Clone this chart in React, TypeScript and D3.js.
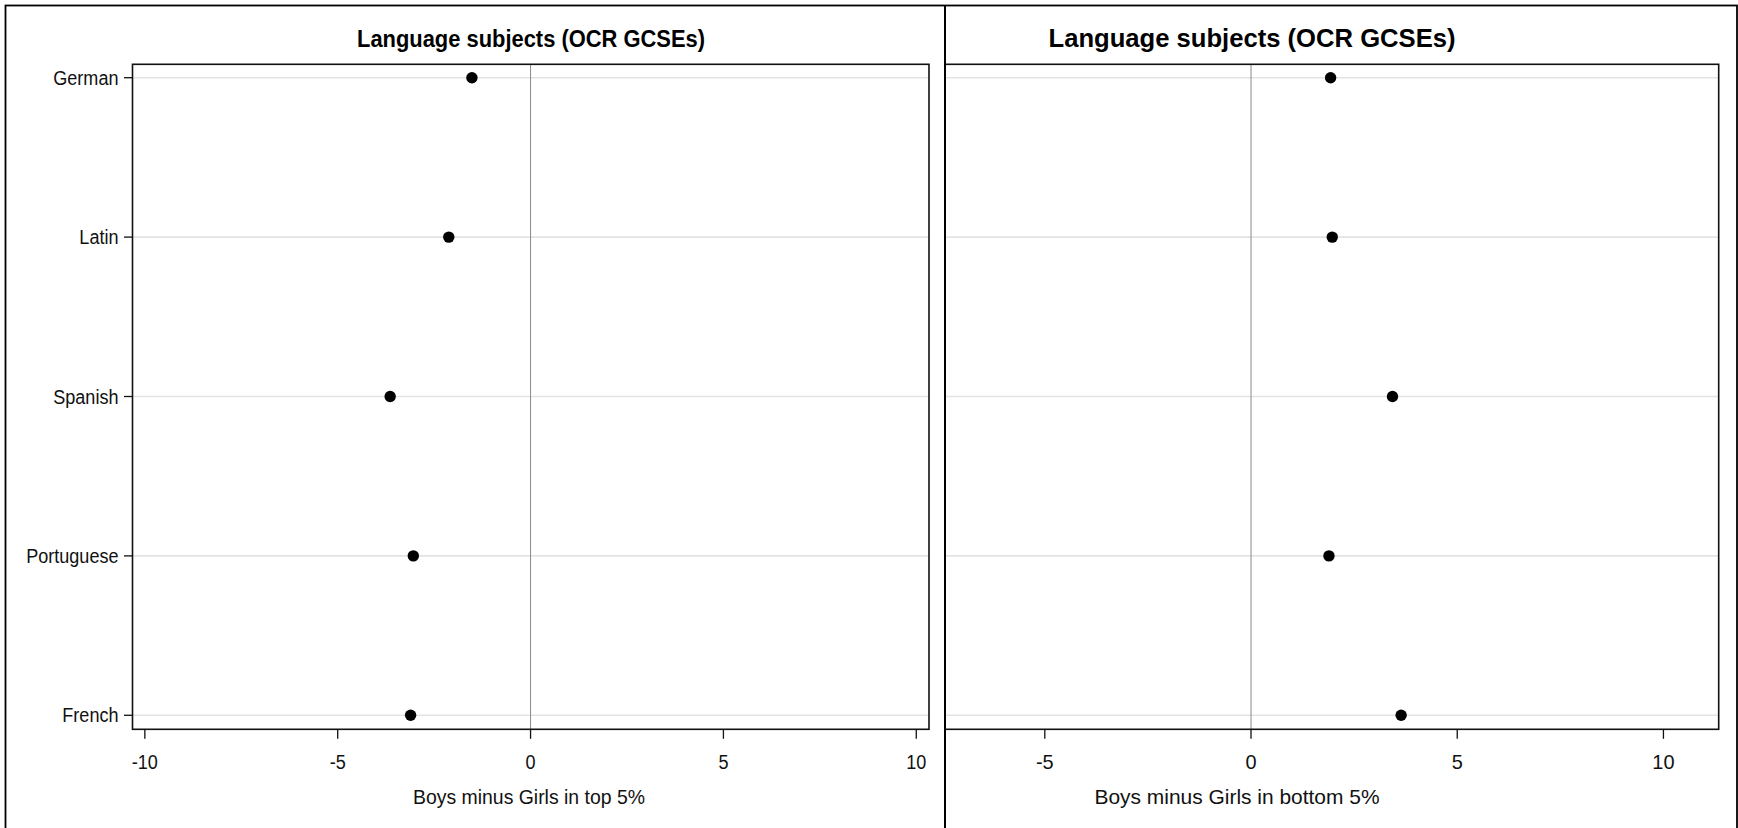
import React from "react";
import * as d3 from "d3";

// Subjects and the two boys-minus-girls differences (percentage points)
const subjects: string[] = ["German", "Latin", "Spanish", "Portuguese", "French"];
const topFiveDiff: number[] = [-1.52, -2.12, -3.64, -3.04, -3.11];
const bottomFiveDiff: number[] = [1.93, 1.97, 3.43, 1.89, 3.64];

const leftTicks: number[] = [-10, -5, 0, 5, 10];
const rightTicks: number[] = [-5, 0, 5, 10];

const panelTitle = "Language subjects (OCR GCSEs)";
const leftAxisLabel = "Boys minus Girls in top 5%";
const rightAxisLabel = "Boys minus Girls in bottom 5%";

const W = 1738;
const H = 828;
const FONT = "'Liberation Sans', Arial, Helvetica, sans-serif";

const plotTop = 64.3;
const plotBottom = 729.3;

const y = d3.scalePoint<string>().domain(subjects).range([77.7, 715.3]);

const xLeft = d3.scaleLinear().domain([-10.32, 10.33]).range([132.5, 929]);
const xRight = d3.scaleLinear().domain([-7.42, 11.34]).range([945, 1718.7]);

type PanelProps = {
  x: d3.ScaleLinear<number, number>;
  values: number[];
  ticks: number[];
  showCategories: boolean;
  title: string;
  titleX: number;
  titleLen: number;
  titleSize: number;
  axisLabel: string;
  axisLabelX: number;
  axisLabelLen: number;
  textScale: number;
  tickSize: number;
};

function Panel(p: PanelProps) {
  const [x0, x1] = p.x.range();
  return (
    <g>
      {/* horizontal reference lines per category */}
      {subjects.map((s) => (
        <line
          key={"g" + s}
          x1={x0}
          x2={x1}
          y1={y(s)}
          y2={y(s)}
          stroke="#e3e3e3"
          strokeWidth={1.6}
        />
      ))}
      {/* zero line */}
      <line
        x1={p.x(0)}
        x2={p.x(0)}
        y1={plotTop}
        y2={plotBottom}
        stroke="#8a8a8a"
        strokeWidth={1}
      />
      {/* points */}
      {subjects.map((s, i) => (
        <circle key={"c" + s} cx={p.x(p.values[i])} cy={y(s)} r={5.7} fill="#000" />
      ))}
      {/* plot frame */}
      <rect
        x={x0}
        y={plotTop}
        width={x1 - x0}
        height={plotBottom - plotTop}
        fill="none"
        stroke="#111"
        strokeWidth={1.6}
      />
      {/* category axis */}
      {p.showCategories &&
        subjects.map((s) => (
          <g key={"l" + s}>
            <line x1={x0 - 8.5} x2={x0} y1={y(s)} y2={y(s)} stroke="#111" strokeWidth={1.3} />
            <g transform={`translate(${x0 - 14},${y(s)}) scale(${p.textScale},1)`}>
              <text
                x={0}
                y={0}
                dy="0.34em"
                textAnchor="end"
                fontFamily={FONT}
                fontSize={21}
                fill="#111"
              >
                {s}
              </text>
            </g>
          </g>
        ))}
      {/* value axis */}
      {p.ticks.map((t) => (
        <g key={"t" + t}>
          <line
            x1={p.x(t)}
            x2={p.x(t)}
            y1={plotBottom}
            y2={plotBottom + 9.5}
            stroke="#111"
            strokeWidth={1.3}
          />
          <g transform={`translate(${p.x(t)},${762}) scale(${p.textScale},1)`}>
            <text
              x={0}
              y={0}
              dy="0.35em"
              textAnchor="middle"
              fontFamily={FONT}
              fontSize={p.tickSize}
              fill="#111"
            >
              {t}
            </text>
          </g>
        </g>
      ))}
      <text
        x={p.axisLabelX}
        y={797}
        dy="0.35em"
        textAnchor="middle"
        fontFamily={FONT}
        fontSize={21}
        fill="#111"
        textLength={p.axisLabelLen}
        lengthAdjust="spacingAndGlyphs"
      >
        {p.axisLabel}
      </text>
      <text
        x={p.titleX}
        y={46.5}
        textAnchor="middle"
        fontFamily={FONT}
        fontWeight="bold"
        fontSize={p.titleSize}
        fill="#000"
        textLength={p.titleLen}
        lengthAdjust="spacingAndGlyphs"
      >
        {p.title}
      </text>
    </g>
  );
}

export default function App() {
  return (
    <svg
      width={W}
      height={H}
      viewBox={`0 0 ${W} ${H}`}
      style={{ position: "absolute", left: 0, top: 0, background: "#fff" }}
    >
      <rect x={0} y={0} width={W} height={H} fill="#fff" />
      <Panel
        x={xLeft}
        values={topFiveDiff}
        ticks={leftTicks}
        showCategories={true}
        title={panelTitle}
        titleX={531}
        titleLen={348}
        titleSize={23}
        axisLabel={leftAxisLabel}
        axisLabelX={529}
        axisLabelLen={232}
        textScale={0.86}
        tickSize={21}
      />
      <Panel
        x={xRight}
        values={bottomFiveDiff}
        ticks={rightTicks}
        showCategories={false}
        title={panelTitle}
        titleX={1252}
        titleLen={407}
        titleSize={25}
        axisLabel={rightAxisLabel}
        axisLabelX={1237}
        axisLabelLen={285}
        textScale={0.95}
        tickSize={21}
      />
      {/* outer frame and panel divider */}
      <rect x={5.5} y={5.5} width={1731.5} height={900} fill="none" stroke="#000" strokeWidth={1.8} />
      <line x1={945} x2={945} y1={5} y2={H} stroke="#000" strokeWidth={2} />
    </svg>
  );
}
